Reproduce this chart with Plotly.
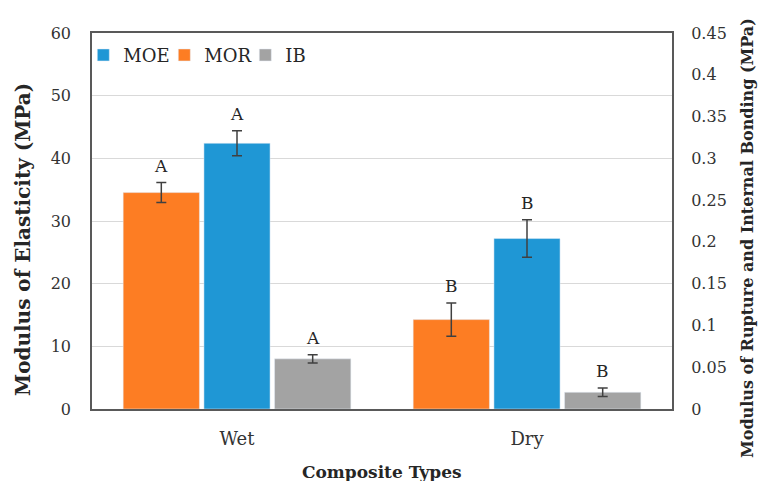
import plotly.graph_objects as go

# ---- data ----
categories = ["Wet", "Dry"]
moe_values = [42.4, 27.2]          # MPa, left axis
moe_errors = [2.0, 3.0]
mor_values = [0.259, 0.107]        # MPa, right axis
mor_errors = [0.012, 0.020]
ib_values = [0.060, 0.020]         # MPa, right axis
ib_errors = [0.005, 0.005]
moe_letters = ["A", "B"]
mor_letters = ["A", "B"]
ib_letters = ["A", "B"]
left_ticks = [0, 10, 20, 30, 40, 50, 60]
right_ticks = [0, 0.05, 0.1, 0.15, 0.2, 0.25, 0.3, 0.35, 0.4, 0.45]

# ---- style ----
FONT = "DejaVu Serif"
C_MOE = "#1F97D5"
C_MOR = "#FD7D23"
C_IB = "#A3A3A3"
ERR_C = "#404040"
TXT = "#262626"
xpos = list(range(len(categories)))

# bar geometry (category units)
W_SIDE, W_MID = 0.263, 0.228
OFF_MOR = -0.261 - W_SIDE / 2
OFF_MOE = -W_MID / 2
OFF_IB = 0.261 - W_SIDE / 2


def err(vals):
    return dict(type="data", array=vals, visible=True, color=ERR_C, thickness=1.5, width=5)


fig = go.Figure()
fig.add_trace(go.Bar(name="MOE", x=xpos, y=moe_values, yaxis="y", marker_color=C_MOE,
                     width=W_MID, offset=OFF_MOE, error_y=err(moe_errors)))
fig.add_trace(go.Bar(name="MOR", x=xpos, y=mor_values, yaxis="y2", marker_color=C_MOR,
                     width=W_SIDE, offset=OFF_MOR, error_y=err(mor_errors)))
fig.add_trace(go.Bar(name="IB", x=xpos, y=ib_values, yaxis="y2", marker_color=C_IB,
                     width=W_SIDE, offset=OFF_IB, error_y=err(ib_errors)))

annotations = []
for i in xpos:
    for vals, errs, letters, center, yref in [
        (mor_values, mor_errors, mor_letters, -0.261, "y2"),
        (moe_values, moe_errors, moe_letters, 0.0, "y"),
        (ib_values, ib_errors, ib_letters, 0.261, "y2"),
    ]:
        annotations.append(dict(x=i + center, y=vals[i] + errs[i], xref="x", yref=yref,
                                text=letters[i], showarrow=False, yanchor="bottom", yshift=5,
                                font=dict(family=FONT, size=17, color=TXT)))

annotations += [
    dict(text="<b>Modulus of Elasticity (MPa)</b>", xref="paper", yref="paper", x=0, y=0.5,
         xanchor="center", yanchor="middle", xshift=-69, yshift=-19, textangle=-90,
         showarrow=False, font=dict(family=FONT, size=20, color=TXT)),
    dict(text="<b>Modulus of Rupture and Internal Bonding (MPa)</b>", xref="paper", yref="paper",
         x=1, y=0.5, xanchor="center", yanchor="middle", xshift=75, yshift=-17, textangle=-90,
         showarrow=False, font=dict(family=FONT, size=16, color=TXT)),
    dict(text="<b>Composite Types</b>", xref="paper", yref="paper", x=0.5, y=0,
         xanchor="center", yanchor="middle", yshift=-63,
         showarrow=False, font=dict(family=FONT, size=17, color=TXT)),
]

INVIS = "rgba(0,0,0,0)"

fig.update_layout(
    width=758, height=481,
    margin=dict(l=92, r=86, t=33, b=72, autoexpand=False),
    paper_bgcolor="white", plot_bgcolor="white",
    barmode="overlay",
    font=dict(family=FONT, size=16, color="#333"),
    showlegend=True,
    legend=dict(orientation="h", x=-0.015, y=0.99, xanchor="left", yanchor="top",
                font=dict(family=FONT, size=18, color=TXT), bgcolor=INVIS,
                traceorder="normal", itemwidth=30, entrywidth=36),
    xaxis=dict(range=[-0.5, 1.5], tickvals=xpos, ticktext=categories, showgrid=False,
               showline=True, mirror=True, linecolor="#595959", linewidth=1.5,
               ticks="outside", ticklen=13, tickcolor=INVIS,
               tickfont=dict(size=18, color="#333"), zeroline=False),
    yaxis=dict(range=[0, 60], tickvals=left_ticks, showgrid=True, gridcolor="#D9D9D9", gridwidth=1,
               showline=True, mirror=True, linecolor="#595959", linewidth=1.5,
               ticks="outside", ticklen=16, tickcolor=INVIS,
               tickfont=dict(size=16, color="#333"), zeroline=False),
    yaxis2=dict(range=[0, 0.45], tickvals=right_ticks, ticktext=[f"{v:g}" for v in right_ticks],
                overlaying="y", side="right", showgrid=False, showline=False,
                ticks="outside", ticklen=15, tickcolor=INVIS,
                tickfont=dict(size=16, color="#333"), zeroline=False),
    annotations=annotations,
)

fig.write_html("out.html", config={"displayModeBar": False},
               post_script="document.body.style.margin='0';document.body.style.overflow='hidden';")
